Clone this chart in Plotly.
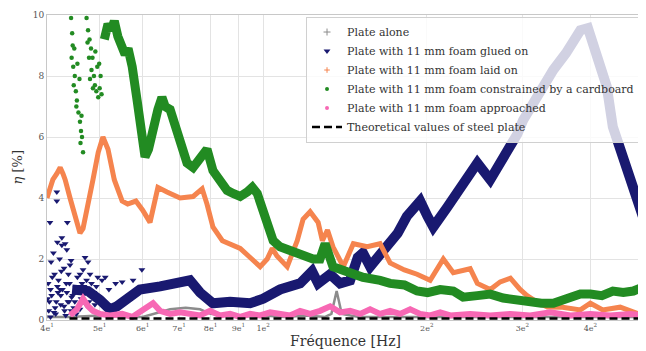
import plotly.graph_objects as go

# ---------------- data ----------------
# Plate alone (grey)
alone_f = [40, 44, 50, 56, 60, 64.6, 67.4, 72, 76.5, 80, 90, 100, 110, 120, 130, 133.5, 136.5, 139.5, 150, 200, 300, 400, 500]
alone_eta = [0.1, 0.1, 0.15, 0.1, 0.1, 0.25, 0.35, 0.4, 0.35, 0.2, 0.1, 0.15, 0.1, 0.15, 0.1, 0.2, 0.95, 0.2, 0.1, 0.1, 0.1, 0.1, 0.1]

# Plate with foam glued on (navy) - scattered cloud at low frequency
glued_sc_f = [41.7, 41.7, 40.5, 43.6, 42.6, 43.2, 41.8, 42.6, 43.5, 44.3, 47.0, 47.6, 46.6, 59.8, 55.0, 52.0,
              40.3, 40.8, 41.3, 42.0, 42.4, 43.0, 43.5, 44.0, 44.8, 45.5, 46.2, 47.3, 48.3, 49.3, 40.6, 41.5,
              42.2, 43.3, 44.3, 45.1, 46.0, 47.8, 49.0, 50.5, 40.2, 41.1, 42.7, 43.9, 45.7, 40.4, 40.9,
              41.4, 41.9, 42.5, 43.1, 43.8, 44.6, 45.3, 46.4, 47.2, 48.0, 48.8, 49.6, 40.7, 41.6, 42.3,
              43.4, 44.1, 45.0, 46.8, 48.5, 51.2, 53.5, 57.6, 40.1, 40.6, 41.2, 41.8, 42.4, 43.0, 43.7,
              44.4, 45.2, 46.0]
glued_sc_eta = [4.2, 3.9, 3.2, 3.2, 2.7, 2.5, 2.55, 2.45, 2.3, 1.95, 2.05, 1.9, 1.65, 1.65, 1.25, 1.0,
                0.3, 0.8, 1.5, 1.3, 0.5, 1.7, 0.9, 1.2, 0.4, 1.4, 0.7, 1.3, 1.2, 1.1, 0.1, 0.2,
                2.0, 0.15, 0.3, 0.9, 1.5, 0.6, 0.5, 1.3, 1.2, 2.2, 1.0, 0.6, 1.1, 0.6, 1.4,
                0.4, 0.9, 1.6, 0.3, 1.5, 0.8, 0.2, 1.2, 0.5, 1.5, 0.9, 1.4, 1.9, 0.6, 1.0,
                1.2, 1.8, 0.6, 1.1, 0.8, 1.4, 1.2, 1.3, 0.7, 1.0, 0.25, 1.1, 0.8, 0.45, 0.6,
                0.75, 1.05, 0.35]
glued_f = [44.5, 46.0, 47.6, 50.1, 52.2, 53.8, 55.7, 59.3, 64.6, 70.3, 73.3, 76.5, 80.8, 86.9, 94.6, 100,
           107.4, 116.9, 123, 126.2, 132.8, 138.5, 144.5, 149.3, 152.6, 157.3, 162.3, 166.4, 171.2, 176.8,
           183.8, 194.5, 200.6, 205.6, 218.2, 230.4, 247.8, 261.7, 276.4, 293.6, 300.8, 318.1, 341.9, 360.8,
           383.4, 396, 411, 428.9, 440, 459.6, 480.2, 500]
glued_eta = [1.0, 1.0, 0.95, 0.65, 0.35, 0.45, 0.65, 1.0, 1.1, 1.2, 1.3, 0.9, 0.55, 0.6, 0.55, 0.7,
             1.0, 1.2, 1.6, 1.2, 1.5, 1.2, 1.3, 2.05, 2.2, 1.75, 2.05, 2.3, 2.5, 2.85,
             3.4, 3.9, 3.4, 3.05, 3.7, 4.35, 5.15, 4.6, 5.25, 6.1, 6.55, 7.3, 8.2, 8.75,
             9.5, 9.57, 8.75, 7.65, 6.33, 5.25, 4.16, 3.38]

# Plate with foam laid on (coral)
laid_f = [40.0, 40.5, 41.0, 41.7, 42.3, 42.8, 43.2, 44.1, 45.0, 46.0, 46.6, 47.0, 48.6, 49.7, 50.7, 51.8,
          53.2, 55.0, 56.3, 58.3, 60.0, 61.9, 63.2, 64.0, 66.5, 70.3, 74.3, 77.2, 78.8, 80.8, 84.1, 86.9,
          90.7, 94.6, 98.7, 101.7, 103.9, 106, 107.4, 110.7, 115.5, 118.4, 122, 126.2, 128.5, 131.3, 134.4,
          140.4, 146.5, 155.4, 164.1, 171.2, 181.9, 191.9, 202.9, 209, 214.5, 223.8, 240.4, 247.8, 261.7,
          273, 285, 297, 305.9, 318.1, 333.5, 355.6, 383.4, 400, 421.6, 454, 487.5, 500]
laid_eta = [4.0, 4.3, 4.6, 4.8, 5.0, 4.8, 4.6, 4.0, 3.5, 2.85, 3.0, 3.3, 4.6, 5.5, 6.0, 5.6,
            4.6, 3.9, 3.8, 3.9, 3.6, 3.2, 4.0, 4.35, 4.2, 4.0, 4.05, 4.3, 3.8, 3.05, 2.6, 2.5,
            2.35, 2.05, 1.75, 2.0, 2.35, 2.1, 2.0, 1.75, 2.6, 3.3, 3.55, 3.2, 2.6, 2.95, 2.4,
            1.75, 2.5, 2.4, 2.5, 1.87, 1.64, 1.5, 1.3, 1.7, 2.0, 1.55, 1.68, 1.2, 1.0,
            1.25, 1.37, 1.0, 0.8, 0.6, 0.43, 0.42, 0.33, 0.55, 0.33, 0.42, 0.22, 0.1]

# Plate with foam constrained by a cardboard (green) - scattered part
card_sc_f = [44.3, 44.5, 44.6, 44.4, 44.7, 45.0, 44.8, 45.2, 45.4, 45.3, 45.7, 46.0, 46.2, 46.4, 46.1, 46.6,
             45.9, 45.5, 47.3, 47.6, 47.9, 48.2, 48.5, 48.3, 48.8, 49.0, 49.3, 49.7, 50.0, 49.5, 50.2, 48.0,
             49.1, 50.4, 47.8, 48.6, 44.9, 46.3, 47.5, 49.9]
card_sc_eta = [9.9, 9.4, 9.0, 8.6, 8.3, 8.0, 7.7, 7.5, 7.2, 7.0, 6.8, 6.5, 6.2, 6.0, 5.8, 5.5,
               7.9, 8.4, 9.9, 9.5, 9.2, 8.9, 8.6, 8.2, 8.0, 7.7, 7.5, 7.3, 7.6, 8.3, 8.0, 7.9,
               8.8, 7.4, 8.6, 7.6, 8.9, 6.7, 9.1, 8.4]
card_f = [51.0, 51.8, 52.5, 53.2, 54.0, 55.0, 55.7, 56.4, 57.4, 58.6, 59.8, 60.6, 61.5, 62.7, 64.0, 65.1,
          66.0, 67.4, 69.4, 72.4, 74.3, 76.5, 78.8, 80.8, 83.3, 85.8, 88.0, 90.7, 93.5, 95.5, 97.5, 100,
          104.3, 107.4, 115.5, 123.5, 127.2, 130, 134.4, 142.6, 152.6, 164.1, 171.2, 181.9, 191.9, 200.6,
          211.7, 223.8, 233.3, 247.8, 261.7, 276.4, 293.6, 310, 325, 341.9, 355.6, 367.5, 383.4, 400,
          420, 440, 460, 480, 500]
card_eta = [9.2, 9.7, 9.5, 9.8, 9.3, 9.0, 8.7, 8.9, 8.3, 7.2, 5.9, 5.35, 5.6, 6.3, 6.9, 7.3,
            7.0, 6.9, 6.1, 5.15, 5.0, 5.25, 5.6, 4.9, 4.6, 4.25, 4.15, 4.05, 4.2, 4.35, 4.15, 3.6,
            2.6, 2.4, 2.2, 2.0, 2.0, 2.5, 1.75, 1.55, 1.4, 1.3, 1.2, 1.15, 0.95, 0.9,
            1.0, 0.95, 0.75, 0.8, 0.85, 0.72, 0.65, 0.62, 0.55, 0.55, 0.65, 0.72, 0.85, 0.85,
            0.8, 0.95, 0.9, 0.95, 1.08]

# Plate with foam approached (pink)
appr_f = [44.1, 45.4, 46.6, 47.6, 48.6, 50.1, 52.2, 55.0, 57.4, 60.0, 62.7, 64.6, 67.4, 70.3, 73.3, 76.5,
          79.8, 83.3, 86.9, 90.7, 94.6, 98.7, 103, 107.4, 112, 116.9, 122, 127.2, 132.8, 138.5, 144.5,
          150.8, 157.3, 164.1, 171.2, 178.6, 186.4, 194.5, 202.9, 211.7, 220.9, 240.4, 261.7, 285, 310,
          337.6, 367.5, 400, 435, 474, 500]
appr_eta = [0.15, 0.35, 0.7, 0.45, 0.3, 0.2, 0.15, 0.2, 0.1, 0.3, 0.55, 0.3, 0.2, 0.25, 0.2, 0.15,
            0.3, 0.15, 0.2, 0.1, 0.2, 0.15, 0.25, 0.2, 0.15, 0.3, 0.2, 0.3, 0.45, 0.25, 0.3,
            0.2, 0.35, 0.2, 0.3, 0.2, 0.35, 0.2, 0.15, 0.25, 0.15, 0.2, 0.15, 0.2, 0.15,
            0.25, 0.15, 0.2, 0.15, 0.2, 0.15]

# Theoretical values of steel plate
theo_f = [44, 500]
theo_eta = [0.05, 0.05]

x_tickvals = [40, 50, 60, 70, 80, 90, 100, 200, 300, 400, 500]
x_ticktext = ["4e<sup>1</sup>", "5e<sup>1</sup>", "6e<sup>1</sup>", "7e<sup>1</sup>", "8e<sup>1</sup>",
              "9e<sup>1</sup>", "1e<sup>2</sup>", "2e<sup>2</sup>", "3e<sup>2</sup>", "4e<sup>2</sup>", "5e<sup>2</sup>"]
y_tickvals = [0, 2, 4, 6, 8, 10]

labels = ["Plate alone",
          "Plate with 11 mm foam glued on",
          "Plate with 11 mm foam laid on",
          "Plate with 11 mm foam constrained by a cardboard",
          "Plate with 11 mm foam approached",
          "Theoretical values of steel plate"]

C_GREY = "#8c8c8c"
C_NAVY = "#191970"
C_CORAL = "#f5844e"
C_GREEN = "#228b22"
C_PINK = "#f768b4"
SERIF = "DejaVu Serif, Liberation Serif, serif"

fig = go.Figure()

# data traces
fig.add_trace(go.Scatter(x=alone_f, y=alone_eta, mode="lines", line=dict(color=C_GREY, width=2.5), showlegend=False))
fig.add_trace(go.Scatter(x=glued_sc_f, y=glued_sc_eta, mode="markers",
                         marker=dict(symbol="triangle-down", color=C_NAVY, size=6), showlegend=False))
fig.add_trace(go.Scatter(x=glued_f, y=glued_eta, mode="lines", line=dict(color=C_NAVY, width=10), showlegend=False))
fig.add_trace(go.Scatter(x=laid_f, y=laid_eta, mode="lines", line=dict(color=C_CORAL, width=5), showlegend=False))
fig.add_trace(go.Scatter(x=card_sc_f, y=card_sc_eta, mode="markers",
                         marker=dict(symbol="circle", color=C_GREEN, size=4.5), showlegend=False))
fig.add_trace(go.Scatter(x=card_f, y=card_eta, mode="lines", line=dict(color=C_GREEN, width=9), showlegend=False))
fig.add_trace(go.Scatter(x=appr_f, y=appr_eta, mode="lines", line=dict(color=C_PINK, width=6), showlegend=False))
fig.add_trace(go.Scatter(x=theo_f, y=theo_eta, mode="lines", line=dict(color="black", width=2.5, dash="8px,4px"), showlegend=False))

# legend proxies
fig.add_trace(go.Scatter(x=[None], y=[None], mode="markers", name=labels[0],
                         marker=dict(symbol="cross-thin", color=C_GREY, size=5, line=dict(color=C_GREY, width=1))))
fig.add_trace(go.Scatter(x=[None], y=[None], mode="markers", name=labels[1],
                         marker=dict(symbol="triangle-down", color=C_NAVY, size=6)))
fig.add_trace(go.Scatter(x=[None], y=[None], mode="markers", name=labels[2],
                         marker=dict(symbol="cross-thin", color=C_CORAL, size=4, line=dict(color=C_CORAL, width=1))))
fig.add_trace(go.Scatter(x=[None], y=[None], mode="markers", name=labels[3],
                         marker=dict(symbol="circle", color=C_GREEN, size=4)))
fig.add_trace(go.Scatter(x=[None], y=[None], mode="markers", name=labels[4],
                         marker=dict(symbol="circle", color=C_PINK, size=4)))
fig.add_trace(go.Scatter(x=[None], y=[None], mode="lines", name=labels[5],
                         line=dict(color="black", width=2.5, dash="8px,4px")))

# The page has an 8px body margin, so the figure is sized to fit inside the 646x351 window.
fig.update_layout(
    width=638, height=343,
    margin=dict(l=39, r=3, t=7, b=31, autoexpand=False),
    paper_bgcolor="white", plot_bgcolor="white",
    font=dict(family=SERIF, color="#333333"),
    legend=dict(x=0.995, y=0.995, xanchor="right", yanchor="top",
                bgcolor="rgba(255,255,255,0.8)", bordercolor="#d0d0d0", borderwidth=1,
                font=dict(family=SERIF, size=11, color="#333333"),
                tracegroupgap=0, itemsizing="trace", itemwidth=30),
    xaxis=dict(type="log", range=[1.60206, 2.69897], tickvals=x_tickvals, ticktext=x_ticktext,
               tickfont=dict(family=SERIF, size=8, color="#555555"), showgrid=True, gridcolor="#e3e3e3",
               showline=True, mirror=True, linecolor="#c8c8c8", zeroline=False, ticks="",
               automargin=False),
    yaxis=dict(range=[0, 10], tickvals=y_tickvals, tickfont=dict(family=SERIF, size=9, color="#555555"),
               showgrid=True, gridcolor="#e3e3e3", showline=True, mirror=True, linecolor="#c8c8c8",
               zeroline=False, ticks="", automargin=False),
    annotations=[
        dict(text="Fréquence [Hz]", xref="paper", yref="paper", x=0.5, y=-0.069,
             xanchor="center", yanchor="middle", showarrow=False,
             font=dict(family=SERIF, size=14, color="#333333")),
        dict(text="<i>η</i> [%]", xref="paper", yref="paper", x=-0.0487, y=0.5,
             xanchor="center", yanchor="middle", showarrow=False, textangle=-90,
             font=dict(family=SERIF, size=13, color="#333333")),
    ],
)

fig.write_html("out.html")
